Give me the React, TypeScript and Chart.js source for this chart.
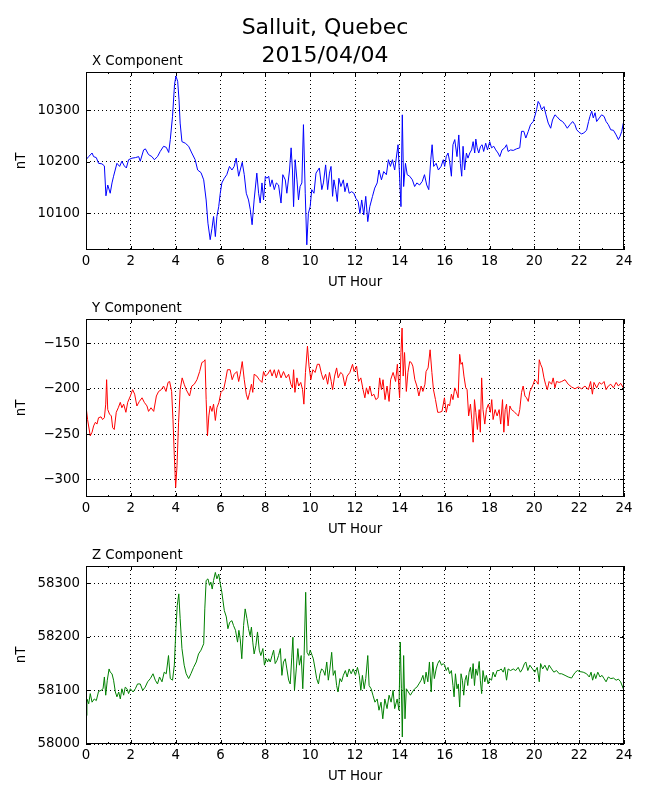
import React, { useRef, useEffect } from 'react';
import { Chart, registerables } from 'chart.js';
import type { ChartConfiguration, Plugin } from 'chart.js';

Chart.register(...registerables);

Chart.defaults.font.family = '"DejaVu Sans", sans-serif';
Chart.defaults.font.size = 13.33;
Chart.defaults.color = '#000';

// X component (nT)
const xHours = [
  0, 0.12, 0.27, 0.34, 0.46, 0.56, 0.71, 0.82, 0.89, 0.97, 1.08, 1.16, 1.23, 1.38, 1.5, 1.6, 1.71, 1.8, 1.9,
  2.05, 2.2, 2.35, 2.42, 2.57, 2.65, 2.79, 2.94, 3.05, 3.19, 3.31, 3.46, 3.58, 3.69, 3.76, 3.86, 3.95,
  4.01, 4.09, 4.15, 4.2, 4.28, 4.43, 4.58, 4.72, 4.87, 4.98, 5.13, 5.25, 5.36, 5.44, 5.54, 5.62, 5.69,
  5.77, 5.84, 5.92, 5.99, 6.06, 6.17, 6.28, 6.4, 6.51, 6.61, 6.7, 6.81, 6.88, 6.97, 7.06, 7.15, 7.25,
  7.33, 7.41, 7.5, 7.62, 7.7, 7.77, 7.85, 7.92, 8.0, 8.07, 8.15, 8.22, 8.3, 8.4, 8.49, 8.59, 8.7, 8.78,
  8.89, 8.96, 9.08, 9.15, 9.21, 9.26, 9.33, 9.41, 9.48, 9.55, 9.63, 9.7, 9.78, 9.85, 9.92, 10.0, 10.07,
  10.17, 10.26, 10.41, 10.52, 10.59, 10.69, 10.78, 10.86, 10.93, 11.0, 11.06, 11.14, 11.21, 11.28,
  11.37, 11.48, 11.55, 11.65, 11.74, 11.85, 11.95, 12.04, 12.14, 12.22, 12.3, 12.39, 12.48, 12.57,
  12.66, 12.78, 12.88, 12.99, 13.07, 13.18, 13.28, 13.4, 13.49, 13.58, 13.67, 13.77, 13.84, 13.92,
  13.99, 14.05, 14.11, 14.17, 14.25, 14.33, 14.44, 14.56, 14.66, 14.76, 14.88, 15.0, 15.1, 15.2, 15.29,
  15.38, 15.44, 15.51, 15.62, 15.72, 15.84, 15.94, 16.0, 16.07, 16.15, 16.22, 16.3, 16.37, 16.45,
  16.55, 16.63, 16.7, 16.76, 16.82, 16.89, 16.97, 17.04, 17.12, 17.2, 17.27, 17.34, 17.39, 17.45,
  17.52, 17.6, 17.67, 17.74, 17.83, 17.91, 18.01, 18.09, 18.19, 18.28, 18.38, 18.46, 18.56, 18.68,
  18.76, 18.83, 18.94, 19.06, 19.2, 19.35, 19.43, 19.53, 19.62, 19.73, 19.83, 19.95, 20.02, 20.1,
  20.17, 20.25, 20.32, 20.43, 20.52, 20.62, 20.73, 20.81, 20.92, 21.02, 21.14, 21.26, 21.37, 21.47,
  21.59, 21.71, 21.81, 21.89, 22.0, 22.11, 22.21, 22.33, 22.42, 22.48, 22.56, 22.63, 22.71, 22.78,
  22.9, 23.0, 23.11, 23.2, 23.3, 23.41, 23.53, 23.65, 23.75, 23.82, 23.9, 23.97, 24,
];
const xValues = [
  10204, 10210, 10217, 10210, 10208, 10197, 10196, 10192, 10134, 10155, 10139, 10159, 10172, 10197, 10191, 10201, 10192, 10188, 10204,
  10207, 10208, 10210, 10201, 10223, 10225, 10214, 10210, 10204, 10210, 10220, 10230, 10228, 10218, 10243, 10288, 10350,
  10366, 10356, 10320, 10275, 10239, 10236, 10230, 10217, 10204, 10184, 10179, 10165, 10126, 10081, 10049, 10071, 10094,
  10055, 10094, 10113, 10139, 10159, 10168, 10175, 10191, 10184, 10191, 10207, 10172, 10184, 10199, 10175, 10139, 10126,
  10107, 10078, 10126, 10178, 10139, 10120, 10159, 10126, 10172, 10168, 10172, 10152, 10165, 10146, 10159, 10155, 10120, 10175,
  10165, 10139, 10184, 10227, 10184, 10113, 10204, 10165, 10126, 10152, 10159, 10272, 10139, 10039, 10100, 10113, 10146,
  10139, 10178, 10188, 10146, 10159, 10194, 10146, 10178, 10191, 10133, 10165, 10146, 10123, 10168,
  10152, 10165, 10142, 10159, 10139, 10142, 10139, 10129, 10123, 10100, 10126, 10097, 10133, 10084,
  10113, 10133, 10149, 10159, 10184, 10165, 10181, 10175, 10204, 10191, 10204, 10184, 10207, 10233,
  10172, 10113, 10291, 10152, 10197, 10175, 10172, 10165, 10152, 10159, 10155, 10162, 10175, 10155, 10146,
  10204, 10233, 10191, 10197, 10184, 10191, 10204, 10191, 10210, 10217, 10201, 10172, 10233, 10243,
  10210, 10252, 10197, 10172, 10230, 10184, 10217, 10207, 10217, 10223, 10239, 10217, 10244, 10227,
  10217, 10230, 10233, 10220, 10236, 10223, 10239, 10227, 10230, 10223, 10217, 10210, 10223, 10227,
  10233, 10220, 10223, 10222, 10225, 10227, 10259, 10259, 10246, 10259, 10272, 10278, 10288, 10301,
  10317, 10311, 10301, 10307, 10291, 10275, 10265, 10281, 10291, 10287, 10281, 10278, 10272, 10265,
  10272, 10278, 10272, 10262, 10257, 10254, 10256, 10261, 10278, 10288, 10298, 10285, 10295, 10278,
  10285, 10291, 10288, 10278, 10272, 10262, 10261, 10252, 10243, 10249, 10259, 10275, 10272,
];

// Y component (nT), middle panel
const yHours = [
  0, 0.07, 0.19, 0.27, 0.34, 0.42, 0.49, 0.56, 0.67, 0.74, 0.82, 0.88, 0.92, 0.97, 1.05, 1.13, 1.19, 1.26,
  1.35, 1.44, 1.53, 1.6, 1.68, 1.78, 1.86, 1.98, 2.08, 2.17, 2.27, 2.38, 2.5, 2.6, 2.72, 2.79, 2.9, 3.02,
  3.14, 3.24, 3.36, 3.46, 3.57, 3.66, 3.73, 3.82, 3.88, 3.94, 4.0, 4.06, 4.13, 4.2, 4.29, 4.38, 4.47,
  4.62, 4.72, 4.83, 4.95, 5.07, 5.17, 5.25, 5.31, 5.36, 5.42, 5.48, 5.54, 5.62, 5.69, 5.77, 5.84, 5.93,
  6.02, 6.14, 6.23, 6.31, 6.43, 6.52, 6.61, 6.73, 6.81, 6.88, 6.97, 7.06, 7.15, 7.22, 7.3, 7.38, 7.44,
  7.5, 7.62, 7.73, 7.85, 7.92, 8.0, 8.1, 8.22, 8.3, 8.4, 8.49, 8.59, 8.7, 8.81, 8.93, 9.04, 9.14, 9.21,
  9.26, 9.32, 9.41, 9.49, 9.58, 9.66, 9.72, 9.79, 9.88, 9.95, 10.03, 10.12, 10.22, 10.32, 10.41, 10.51,
  10.59, 10.69, 10.78, 10.86, 10.94, 11.0, 11.09, 11.18, 11.25, 11.36, 11.45, 11.55, 11.65, 11.77,
  11.89, 11.96, 12.07, 12.16, 12.26, 12.36, 12.44, 12.51, 12.59, 12.66, 12.75, 12.84, 12.93, 13.03,
  13.1, 13.18, 13.25, 13.34, 13.43, 13.52, 13.59, 13.7, 13.81, 13.89, 13.99, 14.05, 14.1, 14.15, 14.21,
  14.29, 14.36, 14.44, 14.51, 14.58, 14.67, 14.76, 14.85, 14.95, 15.03, 15.12, 15.17, 15.26, 15.35,
  15.43, 15.5, 15.59, 15.69, 15.77, 15.88, 15.99, 16.07, 16.15, 16.22, 16.3, 16.37, 16.45, 16.52,
  16.6, 16.67, 16.73, 16.79, 16.86, 16.94, 17.0, 17.07, 17.15, 17.21, 17.27, 17.33, 17.39, 17.46,
  17.54, 17.59, 17.65, 17.71, 17.79, 17.86, 17.95, 18.04, 18.1, 18.16, 18.25, 18.34, 18.43, 18.5,
  18.58, 18.64, 18.7, 18.76, 18.83, 18.91, 18.98, 19.09, 19.2, 19.29, 19.35, 19.43, 19.5, 19.58,
  19.65, 19.73, 19.8, 19.88, 19.95, 20.02, 20.1, 20.17, 20.22, 20.28, 20.35, 20.43, 20.5, 20.58,
  20.66, 20.77, 20.84, 20.92, 20.99, 21.11, 21.22, 21.37, 21.51, 21.66, 21.81, 21.96, 22.11, 22.26,
  22.41, 22.51, 22.59, 22.66, 22.78, 22.9, 23.0, 23.11, 23.2, 23.3, 23.41, 23.53, 23.65, 23.75,
  23.85, 23.97, 24,
];
const yValues = [
  -219, -234, -252, -248, -241, -237, -239, -232, -231, -234, -232, -217, -190, -223, -228, -230, -243, -245,
  -226, -221, -215, -221, -217, -226, -215, -208, -201, -206, -219, -214, -210, -215, -219, -225, -221, -225,
  -208, -203, -201, -197, -203, -193, -192, -203, -234, -274, -309, -285, -237, -201, -188, -195, -201,
  -208, -197, -195, -190, -181, -171, -170, -168, -212, -252, -230, -219, -225, -217, -235, -221, -215,
  -204, -201, -190, -179, -179, -190, -184, -181, -192, -184, -170, -190, -206, -212, -204, -195, -204,
  -184, -186, -190, -193, -181, -186, -184, -179, -186, -179, -188, -179, -188, -181, -188, -184, -195, -199,
  -179, -204, -188, -197, -193, -201, -217, -182, -153, -175, -190, -179, -182, -173, -173, -184,
  -190, -184, -195, -182, -192, -201, -186, -177, -188, -182, -184, -197, -186, -182,
  -173, -181, -175, -192, -188, -201, -210, -199, -206, -197, -208, -206, -212, -210,
  -188, -201, -190, -212, -197, -214, -190, -182, -192, -173, -210, -160, -133, -186, -160,
  -203, -182, -170, -171, -175, -190, -197, -208, -197, -203, -195, -181, -177, -157,
  -182, -201, -212, -226, -226, -225, -210, -226, -217, -219, -206, -212, -199, -203,
  -210, -162, -173, -171, -186, -199, -201, -230, -217, -234, -259, -212, -226, -245,
  -223, -248, -188, -223, -239, -223, -217, -226, -212, -234, -223, -230, -223, -239,
  -212, -248, -223, -217, -241, -219, -223, -225, -228, -230, -223, -204, -197, -208,
  -210, -214, -203, -199, -195, -190, -192, -195, -168, -173, -177, -188, -195, -201,
  -192, -195, -188, -199, -192, -193, -192, -190, -195, -198, -200, -198, -200, -197,
  -201, -192, -206, -193, -199, -193, -195, -192, -201, -197, -195, -199, -193, -197,
  -194, -199, -198,
];

// Z component (nT), bottom panel
const zHours = [
  0, 0.04, 0.12, 0.19, 0.27, 0.37, 0.46, 0.56, 0.67, 0.76, 0.82, 0.88, 0.95, 1.03, 1.08, 1.16, 1.23, 1.31,
  1.38, 1.46, 1.53, 1.6, 1.68, 1.75, 1.83, 1.9, 1.98, 2.1, 2.2, 2.3, 2.42, 2.53, 2.64, 2.75, 2.87, 2.99,
  3.09, 3.19, 3.28, 3.39, 3.49, 3.58, 3.68, 3.76, 3.86, 3.94, 4.01, 4.07, 4.14, 4.2, 4.28, 4.38, 4.47,
  4.58, 4.68, 4.8, 4.92, 5.02, 5.13, 5.25, 5.3, 5.36, 5.44, 5.51, 5.57, 5.63, 5.69, 5.77, 5.84, 5.92,
  5.99, 6.06, 6.17, 6.26, 6.33, 6.41, 6.51, 6.58, 6.67, 6.76, 6.82, 6.88, 6.95, 7.03, 7.1, 7.18, 7.25,
  7.32, 7.38, 7.44, 7.5, 7.58, 7.65, 7.73, 7.8, 7.89, 7.96, 8.04, 8.1, 8.15, 8.22, 8.3, 8.37, 8.44,
  8.52, 8.59, 8.67, 8.74, 8.81, 8.89, 8.96, 9.04, 9.11, 9.18, 9.23, 9.3, 9.38, 9.45, 9.52, 9.6, 9.67,
  9.73, 9.8, 9.86, 9.94, 10.0, 10.09, 10.14, 10.22, 10.29, 10.37, 10.44, 10.51, 10.59, 10.66, 10.74,
  10.81, 10.88, 10.96, 11.03, 11.11, 11.18, 11.24, 11.33, 11.4, 11.48, 11.57, 11.65, 11.74, 11.83,
  11.92, 12.02, 12.11, 12.19, 12.26, 12.33, 12.41, 12.48, 12.57, 12.63, 12.72, 12.8, 12.89, 12.99,
  13.07, 13.16, 13.24, 13.33, 13.43, 13.52, 13.61, 13.7, 13.77, 13.88, 13.96, 14.02, 14.07, 14.11,
  14.17, 14.23, 14.29, 14.38, 14.47, 14.56, 14.66, 14.76, 14.85, 14.95, 15.03, 15.1, 15.17, 15.25,
  15.32, 15.4, 15.47, 15.54, 15.62, 15.69, 15.77, 15.86, 15.94, 16.0, 16.07, 16.15, 16.22, 16.3,
  16.37, 16.42, 16.48, 16.55, 16.61, 16.67, 16.73, 16.79, 16.85, 16.91, 16.97, 17.03, 17.09, 17.15,
  17.21, 17.27, 17.33, 17.39, 17.46, 17.54, 17.59, 17.65, 17.71, 17.79, 17.86, 17.94, 18.01, 18.09,
  18.16, 18.25, 18.34, 18.43, 18.52, 18.61, 18.68, 18.76, 18.83, 18.94, 19.06, 19.17, 19.28, 19.38,
  19.47, 19.56, 19.62, 19.71, 19.8, 19.92, 20.02, 20.13, 20.22, 20.28, 20.37, 20.47, 20.58, 20.66,
  20.77, 20.87, 20.99, 21.11, 21.22, 21.37, 21.51, 21.66, 21.81, 21.92, 22.04, 22.18, 22.33, 22.45,
  22.53, 22.6, 22.68, 22.74, 22.83, 22.93, 23.02, 23.11, 23.2, 23.3, 23.41, 23.53, 23.65, 23.75,
  23.85, 23.97, 24,
];
const zValues = [
  58053, 58084, 58075, 58094, 58078, 58084, 58081, 58098, 58100, 58103, 58125, 58091, 58119, 58140, 58134, 58131, 58119, 58097,
  58088, 58097, 58084, 58103, 58091, 58106, 58103, 58094, 58103, 58097, 58103, 58112, 58112, 58100, 58106, 58116, 58122, 58131,
  58119, 58112, 58125, 58116, 58134, 58131, 58165, 58122, 58119, 58147, 58215, 58258, 58280, 58234, 58178, 58147, 58131,
  58122, 58131, 58143, 58153, 58168, 58175, 58187, 58252, 58305, 58308, 58296, 58302, 58289, 58305, 58320, 58308, 58317,
  58299, 58283, 58249, 58237, 58215, 58227, 58230, 58221, 58212, 58190, 58212, 58196, 58159, 58221, 58252, 58234, 58215,
  58202, 58218, 58190, 58168, 58184, 58209, 58175, 58165, 58178, 58147, 58159, 58153, 58159, 58153, 58165, 58175, 58150,
  58156, 58165, 58178, 58128, 58153, 58159, 58140, 58119, 58112, 58162, 58199, 58100, 58140, 58178, 58147, 58165, 58103,
  58165, 58283, 58171, 58165, 58175, 58165, 58159, 58140, 58122, 58112, 58131, 58140, 58137, 58128, 58153,
  58119, 58140, 58171, 58128, 58137, 58109, 58097, 58122, 58116, 58128, 58137, 58125, 58140, 58131,
  58140, 58128, 58143, 58128, 58100, 58128, 58103, 58122, 58165, 58109, 58103, 58091, 58078, 58084,
  58063, 58078, 58047, 58084, 58066, 58091, 58078, 58100, 58066, 58084, 58063, 58190, 58103, 58013,
  58165, 58047, 58103, 58097, 58091, 58097, 58103, 58106, 58112, 58119, 58128, 58112, 58134, 58116,
  58153, 58097, 58153, 58122, 58140, 58150, 58156, 58147, 58150, 58147, 58137, 58143, 58131, 58137,
  58109, 58088, 58131, 58103, 58112, 58069, 58131, 58119, 58091, 58119, 58128, 58109, 58134, 58143,
  58122, 58150, 58109, 58140, 58128, 58154, 58119, 58094, 58137, 58116, 58128, 58112, 58122, 58119,
  58134, 58125, 58137, 58137, 58140, 58134, 58143, 58119, 58140, 58137, 58140, 58137, 58143, 58134,
  58140, 58150, 58153, 58137, 58147, 58140, 58134, 58143, 58116, 58150, 58140, 58147, 58137, 58147,
  58140, 58134, 58137, 58131, 58131, 58128, 58125, 58123, 58133, 58137, 58135, 58134, 58131, 58125,
  58134, 58119, 58131, 58122, 58134, 58125, 58128, 58122, 58116, 58125, 58122, 58123, 58119, 58121,
  58116, 58103, 58100,
];

const hourTicks = [0, 1, 2, 3, 4, 5, 6, 7, 8, 9, 10, 11, 12, 13, 14, 15, 16, 17, 18, 19, 20, 21, 22, 23, 24];
const figTitle = ['Salluit, Quebec', '2015/04/04'];

const FONT = '"DejaVu Sans", sans-serif';

// matplotlib-like frame: full box, inward ticks, panel title, figure title
const framePlugin: Plugin = {
  id: 'frame',
  afterDraw(chart, _args, opts: any) {
    const { ctx, chartArea: a, scales } = chart;
    ctx.save();
    ctx.strokeStyle = '#000';
    ctx.lineWidth = 1;
    ctx.strokeRect(a.left + 0.5, a.top + 0.5, a.right - a.left - 1, a.bottom - a.top - 1);
    ctx.beginPath();
    hourTicks.forEach((h) => {
      const x = Math.round(scales.x.getPixelForValue(h)) + 0.5;
      const len = h % 2 === 0 ? 4 : 2;
      ctx.moveTo(x, a.bottom);
      ctx.lineTo(x, a.bottom - len);
      ctx.moveTo(x, a.top);
      ctx.lineTo(x, a.top + len);
    });
    scales.y.ticks.forEach((t) => {
      const y = Math.round(scales.y.getPixelForValue(t.value)) + 0.5;
      ctx.moveTo(a.left, y);
      ctx.lineTo(a.left + 4, y);
      ctx.moveTo(a.right, y);
      ctx.lineTo(a.right - 4, y);
    });
    ctx.stroke();

    ctx.fillStyle = '#000';
    ctx.font = `13.33px ${FONT}`;
    ctx.textAlign = 'left';
    ctx.textBaseline = 'alphabetic';
    ctx.fillText(opts.label, a.left + 6, a.top - 7);

    if (opts.suptitle) {
      ctx.font = `22px ${FONT}`;
      ctx.textAlign = 'center';
      ctx.fillText(figTitle[0], 325, 34);
      ctx.fillText(figTitle[1], 325, 62);
    }
    ctx.restore();
  },
};

interface PanelProps {
  hours: number[];
  values: number[];
  color: string;
  label: string;
  min: number;
  max: number;
  step: number;
  top: number;
  suptitle?: boolean;
}

const Panel: React.FC<PanelProps> = ({ hours, values, color, label, min, max, step, top, suptitle }) => {
  const canvasRef = useRef<HTMLCanvasElement>(null);

  useEffect(() => {
    if (!canvasRef.current) return;

    const config: ChartConfiguration<'line'> = {
      type: 'line',
      data: {
        datasets: [
          {
            data: hours.map((h, i) => ({ x: h, y: values[i] })),
            borderColor: color,
            borderWidth: 1,
            pointRadius: 0,
            tension: 0,
            fill: false,
          },
        ],
      },
      options: {
        responsive: false,
        animation: false,
        layout: { padding: { top: 72, right: 26, left: 0, bottom: 0 } },
        plugins: {
          legend: { display: false },
          tooltip: { enabled: false },
          // @ts-ignore custom plugin options
          frame: { label, suptitle: !!suptitle },
        },
        scales: {
          x: {
            type: 'linear',
            min: 0,
            max: 24,
            afterFit: (scale) => {
              scale.height = 50;
            },
            ticks: {
              stepSize: 2,
              padding: 4,
              maxRotation: 0,
              autoSkip: false,
              color: '#000',
              callback: (v) => String(v),
            },
            grid: { color: '#000', lineWidth: 1, drawTicks: false },
            border: { display: false, dash: [1, 3] },
            title: { display: true, text: 'UT Hour', color: '#000', padding: { top: 0, bottom: 9 } },
          },
          y: {
            type: 'linear',
            min,
            max,
            afterFit: (scale) => {
              scale.width = 86;
            },
            ticks: {
              stepSize: step,
              includeBounds: false,
              padding: 6,
              color: '#000',
              callback: (v) => String(v).replace('-', '\u2212'),
            },
            grid: { color: '#000', lineWidth: 1, drawTicks: false },
            border: { display: false, dash: [1, 3] },
            title: { display: true, text: 'nT', color: '#000', padding: { top: 14, bottom: 0 } },
          },
        },
      },
      plugins: [framePlugin],
    };

    const chart = new Chart(canvasRef.current, config);
    return () => {
      chart.destroy();
    };
  }, [hours, values, color, label, min, max, step, suptitle]);

  return (
    <canvas
      ref={canvasRef}
      width={650}
      height={300}
      style={{ position: 'absolute', left: 0, top, width: 650, height: 300 }}
    />
  );
};

const App: React.FC = () => {
  return (
    <div style={{ position: 'absolute', left: 0, top: 0, width: 650, height: 800, background: '#fff' }}>
      <Panel hours={xHours} values={xValues} color="#0000ff" label="X Component" min={10029} max={10374} step={100} top={0} suptitle />
      <Panel hours={yHours} values={yValues} color="#ff0000" label="Y Component" min={-319.5} max={-123} step={50} top={247} />
      <Panel hours={zHours} values={zValues} color="#008000" label="Z Component" min={58000} max={58332} step={100} top={494} />
    </div>
  );
};

export default App;
